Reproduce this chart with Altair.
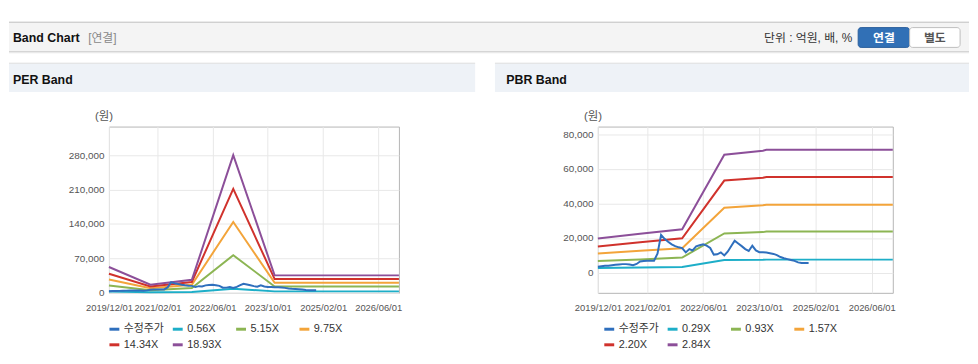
import altair as alt
import pandas as pd

FONT = "Liberation Sans, Arial, Noto Sans CJK KR, sans-serif"

# ---------------- data ----------------
per_names = ["수정주가", "0.56X", "5.15X", "9.75X", "14.34X", "18.93X"]
pbr_names = ["수정주가", "0.29X", "0.93X", "1.57X", "2.20X", "2.84X"]
line_colors = ["#2f6fbd", "#1daec8", "#8cb553", "#f3a43a", "#d0322c", "#8c4f99"]

x_ticks = ["2019/12/01", "2021/02/01", "2022/06/01", "2023/10/01", "2025/02/01", "2026/06/01"]

per_dates = ["2019-12-01", "2020-12-01", "2021-12-01", "2022-12-01",
             "2023-12-01", "2024-12-01", "2025-12-01", "2026-12-01"]
per_056 = [2500, 1200, 1800, 8300, 3000, 3000, 3000, 3000]
per_515 = [15000, 5500, 10000, 76500, 13000, 13000, 13000, 13000]
per_975 = [27000, 9500, 16500, 144000, 20500, 20500, 20500, 20500]
per_1434 = [38800, 13000, 22000, 211500, 28000, 28000, 28000, 28000]
per_1893 = [52500, 16500, 26500, 280000, 35500, 35500, 35500, 35500]

pbr_dates = ["2019-12-01", "2020-12-01", "2021-12-01", "2022-12-01",
             "2023-11-01", "2023-12-01", "2026-12-01"]
pbr_029 = [2700, 2900, 3200, 7300, 7400, 7500, 7500]
pbr_093 = [6700, 7600, 8700, 22600, 23400, 23700, 23700]
pbr_157 = [11000, 12600, 14100, 37500, 38900, 39200, 39200]
pbr_220 = [15100, 17500, 19800, 53200, 54800, 55300, 55300]
pbr_284 = [19700, 22400, 25000, 68100, 70400, 71000, 71000]

# monthly adjusted price (수정주가), 2019/12 .. 2024/12
price_values = [3400, 3700, 3900, 4000, 4300, 4500, 4700, 4900, 4900, 4700,
                4300, 5000, 6400, 6700, 6900, 6900, 6900, 11000, 21800, 19500,
                17800, 16300, 15300, 14600, 14200, 11700, 13600, 12800, 15200, 15800,
                16400, 15600, 14200, 10400, 10600, 11700, 9900, 12200, 15500, 18400,
                16800, 15300, 13600, 12500, 15500, 12800, 11800, 11700, 11600, 11200,
                10800, 10100, 9000, 8300, 7800, 7300, 6800, 5900, 5500, 5500, 5500]
price_dates = [d.strftime("%Y-%m-%d") for d in pd.date_range("2019-12-01", periods=len(price_values), freq="MS")]


def band_frame(dates, names, series_lists):
    rows = []
    for name, vals in zip(names, series_lists):
        for d, v in zip(dates, vals):
            rows.append({"date": d, "value": v, "series": name})
    return pd.DataFrame(rows)


per_bands = band_frame(per_dates, per_names[1:], [per_056, per_515, per_975, per_1434, per_1893])
pbr_bands = band_frame(pbr_dates, pbr_names[1:], [pbr_029, pbr_093, pbr_157, pbr_220, pbr_284])
per_price = pd.DataFrame({"date": price_dates, "value": price_values, "series": per_names[0]})
pbr_price = pd.DataFrame({"date": price_dates, "value": price_values, "series": pbr_names[0]})


def dt(s):
    y, m, d = [int(p) for p in s.split("/")]
    return alt.DateTime(year=y, month=m, date=d, utc=True)


def x_enc():
    return alt.X("date:T",
                 scale=alt.Scale(type="utc", domain=[dt("2019/12/01"), dt("2026/12/01")]),
                 axis=alt.Axis(values=[dt(t) for t in x_ticks], format="%Y/%m/%d", title=None,
                               labelFont=FONT, labelFontSize=9.5, labelColor="#555",
                               labelPadding=10, grid=True, gridColor="#e8e8e8", ticks=False,
                               domain=False, labelOverlap=False, labelFlush=False))


def y_enc(domain, ticks):
    return alt.Y("value:Q",
                 scale=alt.Scale(domain=domain, nice=False, zero=False),
                 axis=alt.Axis(values=ticks, format=",d", title=None, labelFont=FONT,
                               labelFontSize=10, labelColor="#555", labelPadding=5,
                               grid=True, gridColor="#e8e8e8", ticks=False, domain=False))


def color_enc(names, lx):
    return alt.Color("series:N",
                     scale=alt.Scale(domain=names, range=line_colors),
                     legend=alt.Legend(title=None, orient="none", legendX=lx, legendY=198,
                                       direction="horizontal", columns=4, gridAlign="all",
                                       symbolType="stroke", symbolSize=100, symbolStrokeWidth=3,
                                       labelFont=FONT, labelFontSize=11, labelColor="#333",
                                       labelOffset=3, columnPadding=2, rowPadding=3,
                                       padding=0))


ONE = alt.Data(values=[{}])


def rect(x, x2, y, y2, fill, stroke=None, radius=0):
    kw = {"fill": fill, "cornerRadius": radius}
    if stroke:
        kw["stroke"] = stroke
        kw["strokeWidth"] = 1
    else:
        kw["strokeWidth"] = 0
    return alt.Chart(ONE).mark_rect(**kw).encode(
        x=alt.value(x), x2=alt.value(x2), y=alt.value(y), y2=alt.value(y2))


def label(x, y, s, size=12, weight="normal", color="#333", align="left"):
    return alt.Chart(ONE).mark_text(align=align, baseline="middle", font=FONT, fontSize=size,
                                    fontWeight=weight, color=color).encode(
        x=alt.value(x), y=alt.value(y), text=alt.value(s))


def panel(bands, price, names, domain, ticks, ox, oy, w, h, title, panel_left, panel_right,
          legend_x, extra):
    # page coordinates -> coordinates relative to this panel's plot origin (ox, oy)
    deco = list(extra)
    deco += [
        rect(panel_left - ox, panel_right - ox, 63.5 - oy, 64.5 - oy, "#d6d6d6"),
        rect(panel_left - ox, panel_right - ox, 64.5 - oy, 93 - oy, "#eef2f7"),
        label(title[1] - ox, 80.5 - oy, title[0], size=12.5, weight="bold", color="#111"),
        label(title[2] - ox, 118 - oy, "(원)", size=11.5, color="#555", align="center"),
    ]
    lines_b = alt.Chart(bands).mark_line(strokeWidth=2).encode(
        x=x_enc(), y=y_enc(domain, ticks), color=color_enc(names, legend_x))
    lines_p = alt.Chart(price).mark_line(strokeWidth=2).encode(
        x=x_enc(), y=y_enc(domain, ticks), color=color_enc(names, legend_x))
    return alt.layer(*deco, lines_b, lines_p).properties(width=w, height=h)


# PER plot origin on the page: (109, 128); PBR: (603, 128)
OX1, OY = 109, 128
header = [
    rect(8 - OX1, 978 - OX1, 11 - OY, 12 - OY, "#ffffff"),          # top anchor
    rect(8 - OX1, 978 - OX1, 355 - OY, 356 - OY, "#ffffff"),        # bottom anchor
    rect(8 - OX1, 978 - OX1, 22 - OY, 23 - OY, "#b0b0b0"),
    rect(8 - OX1, 978 - OX1, 23 - OY, 52 - OY, "#f4f4f4"),
    rect(8 - OX1, 978 - OX1, 52 - OY, 53 - OY, "#c8c8c8"),
    rect(8 - OX1, 978 - OX1, 53 - OY, 54 - OY, "#e6e6e6"),
    label(12 - OX1, 38.5 - OY, "Band Chart", size=12.5, weight="bold", color="#111"),
    label(88 - OX1, 38.5 - OY, "[연결]", size=12, color="#888"),
    label(860 - OX1, 38.5 - OY, "단위 : 억원, 배, %", size=12, color="#333", align="right"),
    rect(866 - OX1, 918 - OX1, 28 - OY, 48 - OY, "#3170b6", stroke="#2a5e9c", radius=3),
    rect(918 - OX1, 969 - OX1, 28 - OY, 48 - OY, "#ffffff", stroke="#bdbdbd", radius=3),
    label(892 - OX1, 38.5 - OY, "연결", size=12, weight="bold", color="#ffffff", align="center"),
    label(943.5 - OX1, 38.5 - OY, "별도", size=12, weight="bold", color="#555", align="center"),
]

per_chart = panel(per_bands, per_price, per_names, [0, 338000],
                  [0, 70000, 140000, 210000, 280000], 109, 128, 293, 168,
                  ("PER Band", 12, 104), 8, 479, -1, header)
pbr_chart = panel(pbr_bands, pbr_price, pbr_names, [-11700, 84400],
                  [0, 20000, 40000, 60000, 80000], 603, 128, 298, 168,
                  ("PBR Band", 510.5, 598), 499, 978, 5, [])

chart = alt.hconcat(per_chart, pbr_chart, spacing=201, bounds="flush").resolve_scale(
    color="independent", x="independent", y="independent"
).resolve_legend(color="independent").properties(
    padding=0, background="white"
).configure_view(stroke="#b5b5b5", strokeWidth=1)

chart.save("out.html", embed_options={"renderer": "svg", "actions": False})
